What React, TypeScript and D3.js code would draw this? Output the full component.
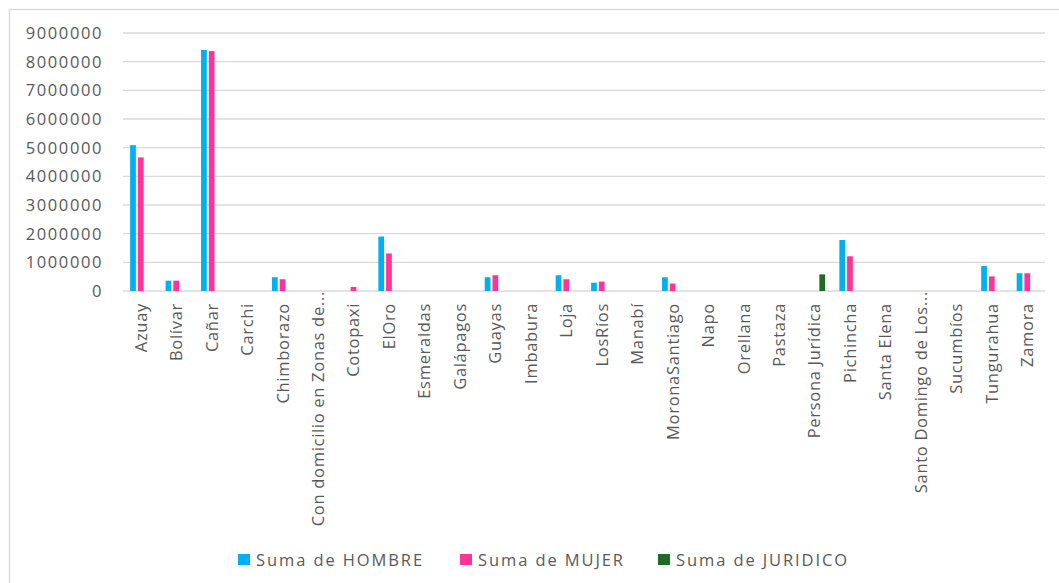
import React from 'react';
import * as d3 from 'd3';

const categories = [
  'Azuay', 'Bolívar', 'Cañar', 'Carchi', 'Chimborazo', 'Con domicilio en Zonas de...',
  'Cotopaxi', 'ElOro', 'Esmeraldas', 'Galápagos', 'Guayas', 'Imbabura', 'Loja', 'LosRíos',
  'Manabí', 'MoronaSantiago', 'Napo', 'Orellana', 'Pastaza', 'Persona Jurídica', 'Pichincha',
  'Santa Elena', 'Santo Domingo de Los...', 'Sucumbíos', 'Tungurahua', 'Zamora',
];

const hombre = [
  5090000, 360000, 8410000, 0, 480000, 0, 0, 1900000, 0, 0, 480000, 0, 550000, 290000,
  0, 480000, 0, 0, 0, 0, 1780000, 0, 0, 0, 870000, 620000,
];
const mujer = [
  4660000, 360000, 8370000, 0, 410000, 0, 140000, 1310000, 0, 0, 550000, 0, 410000, 330000,
  0, 260000, 0, 0, 0, 0, 1210000, 0, 0, 0, 510000, 620000,
];
const juridico = [
  0, 0, 0, 0, 0, 0, 0, 0, 0, 0, 0, 0, 0, 0, 0, 0, 0, 0, 0, 580000, 0, 0, 0, 0, 0, 0,
];

const seriesNames = ['Suma de HOMBRE', 'Suma de MUJER', 'Suma de JURIDICO'];
const seriesColors = ['#00B0F0', '#FF3399', '#1E6B24'];
const yTicks = [0, 1000000, 2000000, 3000000, 4000000, 5000000, 6000000, 7000000, 8000000, 9000000];

const W = 1059;
const H = 583;
const plot = { left: 123, right: 1045, top: 33, bottom: 291 };
const font = '"Open Sans", sans-serif';
const textColor = '#595959';

const App: React.FC = () => {
  const seriesData = [hombre, mujer, juridico];

  const x = d3.scaleBand<string>()
    .domain(categories)
    .range([plot.left, plot.right])
    .padding(0);

  const clusterW = 21.2;
  const x1 = d3.scaleBand<string>()
    .domain(seriesNames)
    .range([(x.bandwidth() - clusterW) / 2, (x.bandwidth() + clusterW) / 2])
    .paddingInner(0.26)
    .paddingOuter(0);

  const y = d3.scaleLinear()
    .domain([0, 9000000])
    .range([plot.bottom, plot.top]);

  const legendX = [238, 460, 658];

  return (
    <svg width={W} height={H} style={{ position: 'absolute', left: 0, top: 0, background: '#fff' }}>
      <rect x={9.5} y={9.5} width={1080} height={600} fill="#fff" stroke="#d9d9d9" strokeWidth={1.3} />

      {/* gridlines + y labels */}
      {yTicks.map(t => (
        <g key={t}>
          <line x1={plot.left} x2={plot.right} y1={y(t)} y2={y(t)} stroke="#d9d9d9" strokeWidth={1.4} />
          <text x={103} y={y(t)} dy="0.36em" textAnchor="end" fontFamily={font} fontSize={16.5}
            letterSpacing={1.6} fill={textColor}>{t}</text>
        </g>
      ))}

      {/* bars */}
      {seriesData.map((vals, si) => (
        <g key={seriesNames[si]} fill={seriesColors[si]}>
          {vals.map((v, i) => v > 0 ? (
            <rect key={i}
              x={(x(categories[i]) as number) + (x1(seriesNames[si]) as number)}
              y={y(v)}
              width={x1.bandwidth()}
              height={y(0) - y(v)} />
          ) : null)}
        </g>
      ))}

      {/* category labels */}
      {categories.map(c => {
        const cx = (x(c) as number) + x.bandwidth() / 2;
        const ty = c.endsWith('...') ? 291 : 303;
        return (
          <text key={c} transform={`translate(${cx},${ty}) rotate(-90)`} dy="0.36em" textAnchor="end"
            fontFamily={font} fontSize={16.5} letterSpacing={0.7} fill={textColor}>{c}</text>
        );
      })}

      {/* legend */}
      {seriesNames.map((s, i) => (
        <g key={s}>
          <rect x={legendX[i]} y={554} width={12} height={11} fill={seriesColors[i]} />
          <text x={legendX[i] + 18} y={566} fontFamily={font} fontSize={16.5} letterSpacing={1.9}
            fill={textColor}>{s}</text>
        </g>
      ))}
    </svg>
  );
};

export default App;
